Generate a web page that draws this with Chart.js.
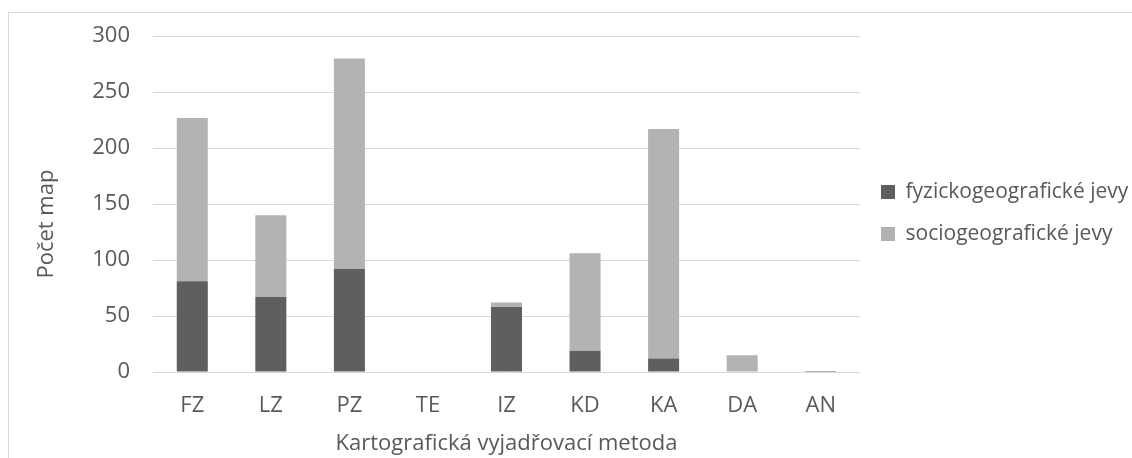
<!DOCTYPE html>
<html>
<head>
<meta charset="utf-8">
<script src="https://cdn.jsdelivr.net/npm/chart.js@4.4.1/dist/chart.umd.min.js"></script>
<style>
  html, body { margin: 0; padding: 0; background: #fff; overflow: hidden; }
  #wrap { position: relative; width: 1132px; height: 458px; }
  #frame { position: absolute; left: 8px; top: 12px; width: 1200px; height: 500px;
           border: 1px solid #d9d9d9; box-sizing: border-box; }
  #c { position: absolute; left: 0; top: 0; }
</style>
</head>
<body>
<div id="wrap">
  <div id="frame"></div>
  <canvas id="c" width="1132" height="458"></canvas>
</div>
<script>
// Map counts per cartographic method
const categories = ['FZ', 'LZ', 'PZ', 'TE', 'IZ', 'KD', 'KA', 'DA', 'AN'];
const physicalMaps = [81, 67, 92, 0, 58, 19, 12, 0, 1];
const socialMaps = [146, 73, 188, 0, 4, 87, 205, 15, 0];
const seriesNames = ['fyzickogeografické jevy', 'sociogeografické jevy'];
const yMin = 0;
const yMax = 300;
const yStep = 50;
const xAxisTitle = 'Kartografická vyjadřovací metoda';
const yAxisTitle = 'Počet map';

const TEXT = '#595959';
const FONT_FAMILY = '"Open Sans"';
const FONT_SIZE = 22;
const LEGEND_FONT_SIZE = 21;
const font = { family: FONT_FAMILY, size: FONT_SIZE };
const legendFont = { family: FONT_FAMILY, size: LEGEND_FONT_SIZE };

// Reserve a fixed column for the legend on the right
const LEGEND_COLUMN = 272;
const LEGEND_PAD = 21;
const BOX = 14;
const probe = document.createElement('canvas').getContext('2d');
probe.font = LEGEND_FONT_SIZE + 'px ' + FONT_FAMILY;
const longest = Math.max(...seriesNames.map(s => probe.measureText(s).width));
const legendNatural = LEGEND_PAD + BOX + LEGEND_FONT_SIZE / 2 + longest + 10;
const rightPad = Math.max(0, LEGEND_COLUMN - legendNatural);

const extras = {
  id: 'extras',
  afterLayout(chart) {
    // keep the legend block vertically centred beside the plot
    const lg = chart.legend;
    lg.bottom = chart.chartArea.bottom + 20;
  },
  afterDraw(chart) {
    const { ctx, chartArea } = chart;
    ctx.save();
    ctx.fillStyle = TEXT;
    ctx.font = FONT_SIZE + 'px ' + FONT_FAMILY;
    ctx.textAlign = 'center';
    ctx.textBaseline = 'middle';
    ctx.translate(47, (chartArea.top + chartArea.bottom) / 2 + 20);
    ctx.rotate(-Math.PI / 2);
    ctx.fillText(yAxisTitle, 0, 0);
    ctx.restore();
  }
};

new Chart(document.getElementById('c'), {
  type: 'bar',
  data: {
    labels: categories,
    datasets: [
      { label: seriesNames[0], data: physicalMaps, backgroundColor: '#5f5f5f', borderWidth: 0,
        barPercentage: 0.395, categoryPercentage: 1 },
      { label: seriesNames[1], data: socialMaps, backgroundColor: '#b3b3b3', borderWidth: 0,
        barPercentage: 0.395, categoryPercentage: 1 }
    ]
  },
  options: {
    responsive: false,
    animation: false,
    layout: { padding: { left: 0, top: 34, right: rightPad, bottom: 0 } },
    plugins: {
      legend: {
        position: 'right',
        maxWidth: LEGEND_COLUMN,
        labels: { boxWidth: BOX, boxHeight: BOX, padding: LEGEND_PAD, color: TEXT, font: legendFont }
      },
      tooltip: { enabled: false }
    },
    scales: {
      x: {
        stacked: true,
        grid: { display: false },
        border: { display: false },
        ticks: { color: TEXT, font, padding: 13, maxRotation: 0, autoSkip: false },
        title: { display: true, text: xAxisTitle, color: TEXT, font, padding: { top: 0, bottom: 1 } },
        afterFit(scale) { scale.height = 86; }
      },
      y: {
        stacked: true,
        min: yMin,
        max: yMax,
        ticks: { stepSize: yStep, color: TEXT, font, padding: 23 },
        grid: { color: '#d9d9d9', lineWidth: 1, drawTicks: false },
        border: { display: false },
        afterFit(scale) { scale.width = 153; }
      }
    }
  },
  plugins: [extras]
});
</script>
</body>
</html>
